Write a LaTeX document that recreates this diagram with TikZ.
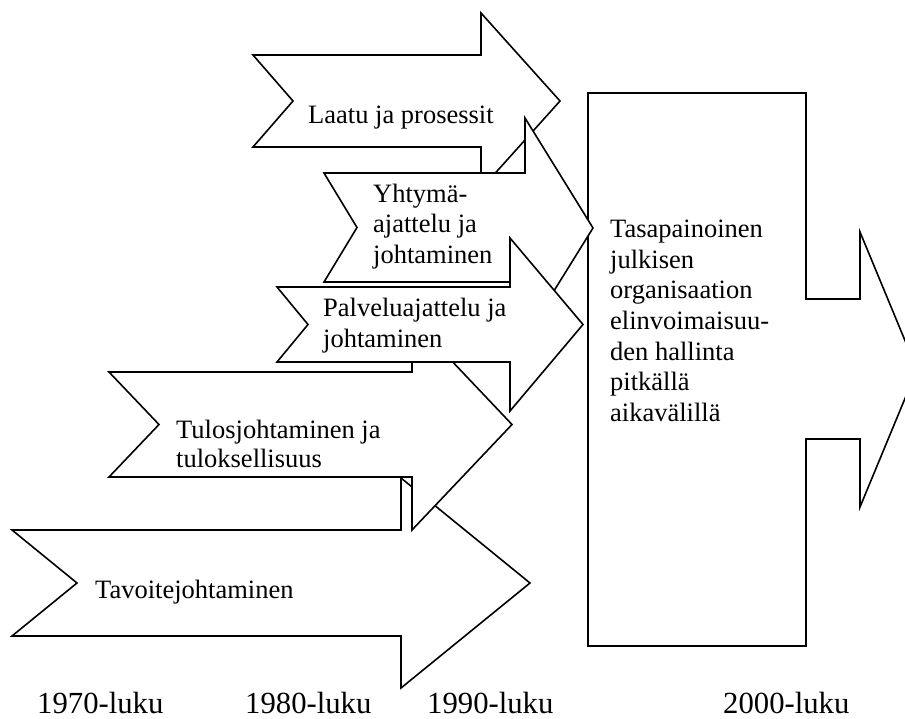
\documentclass[tikz,border=0pt]{standalone}
\usepackage{fontspec}
\setmainfont{Liberation Serif}
\newcommand\lblfont{\fontsize{26.5}{30.6}\selectfont}
\newcommand\yearfont{\fontsize{30.7}{36}\selectfont}
\begin{document}
\begin{tikzpicture}[x=1pt,y=-1pt,
  outline/.style={draw=black, fill=white, line width=1.6pt, line join=miter},
  lbl/.style={font=\lblfont, inner sep=0pt, anchor=base west, align=left},
  year/.style={font=\yearfont, inner sep=0pt, anchor=base west}]
\useasboundingbox (0,0) rectangle (905,718);
\clip (0,0) rectangle (905,718);

% goal box with its outgoing arrow
\draw[outline] (588,93) -- (806,93) -- (806,299) -- (860,299) -- (860,232)
  -- (917,369.5) -- (860,507) -- (860,439) -- (806,439) -- (806,646)
  -- (588,646) -- cycle;

% notched arrows, back to front
\draw[outline] (253,55) -- (481,55) -- (481,13) -- (560,101) -- (481,189)
  -- (481,147) -- (253,147) -- (293,101) -- cycle;
\draw[outline] (324,173) -- (525,173) -- (525,118) -- (593,228) -- (525,337.5)
  -- (525,282) -- (324,282) -- (357,227.5) -- cycle;
\draw[outline] (12,530) -- (401,530) -- (401,478) -- (530,583) -- (401,688)
  -- (401,636) -- (12,636) -- (77,583) -- cycle;
\draw[outline] (109,372) -- (412,372) -- (412,319) -- (512,424.5) -- (412,530)
  -- (412,477) -- (109,477) -- (159,424.5) -- cycle;
\draw[outline] (277,287) -- (510,287) -- (510,238) -- (583,324.5) -- (510,411)
  -- (510,362) -- (277,362) -- (308,324.5) -- cycle;

% labels (multi-line nodes are placed by the baseline of their last line)
\node[lbl] (laatu) at (308,123) {Laatu ja prosessit};
\node[lbl] (yhtyma) at (373,263.5) {Yhtymä-\\ajattelu ja\\johtaminen};
\node[lbl] (palvelu) at (323,347) {Palveluajattelu ja\\johtaminen};
\node[lbl, font=\fontsize{26.5}{29.3}\selectfont] (tulos) at (176,467.3) {Tulosjohtaminen ja\\tuloksellisuus};
\node[lbl] (tavoite) at (95,598) {Tavoitejohtaminen};
\node[lbl] (goal) at (610,421.3) {Tasapainoinen\\julkisen\\organisaation\\elinvoimaisuu-\\den hallinta\\pitkällä\\aikavälillä};

% decades
\node[year] (y70) at (37,713) {1970-luku};
\node[year] (y80) at (245,713) {1980-luku};
\node[year] (y90) at (427,713) {1990-luku};
\node[year] (y00) at (723,713) {2000-luku};
\end{tikzpicture}
\end{document}
